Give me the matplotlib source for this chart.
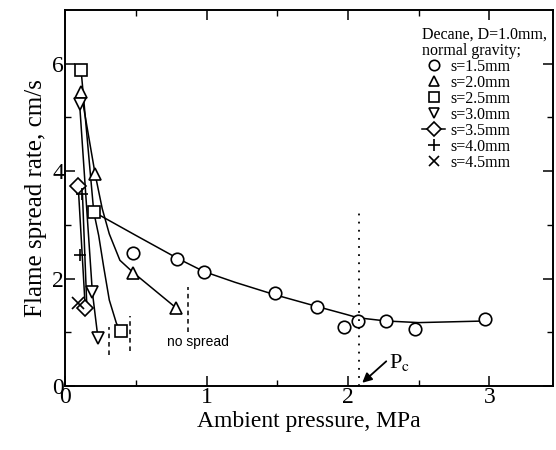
import numpy as np
import matplotlib
matplotlib.use("Agg")
import matplotlib.pyplot as plt
from matplotlib.lines import Line2D

plt.rcParams["font.family"] = ["Liberation Serif", "DejaVu Serif"]
plt.rcParams["mathtext.fontset"] = "stix"

# measured points, pressure in MPa, spread rate in cm/s
s15_p = [0.48, 0.79, 0.98, 1.48, 1.78, 1.97, 2.07, 2.27, 2.47, 2.97]
s15_v = [2.47, 2.36, 2.12, 1.73, 1.47, 1.10, 1.21, 1.21, 1.06, 1.24]
s20_p = [0.11, 0.21, 0.48, 0.78]
s20_v = [5.47, 3.94, 2.11, 1.46]
s25_p = [0.11, 0.20, 0.39]
s25_v = [5.89, 3.24, 1.02]
s30_p = [0.10, 0.19, 0.23]
s30_v = [5.25, 1.75, 0.89]
s35_p = [0.09, 0.14]
s35_v = [3.72, 1.45]
s40_p = [0.12, 0.10]
s40_v = [3.57, 2.43]
s45_p = [0.09]
s45_v = [1.54]

# hand-drawn trend curves
fit15_p = [0.20, 0.50, 0.79, 0.98, 1.20, 1.48, 1.78, 1.99, 2.07, 2.27, 2.50, 2.97]
fit15_v = [3.24, 2.80, 2.38, 2.13, 1.93, 1.70, 1.48, 1.33, 1.27, 1.21, 1.18, 1.21]
fit20_p = [0.11, 0.21, 0.26, 0.31, 0.385, 0.48, 0.78]
fit20_v = [5.47, 3.94, 3.30, 2.83, 2.34, 2.11, 1.46]
fit25_p = [0.11, 0.20, 0.235, 0.27, 0.31, 0.36, 0.39]
fit25_v = [5.89, 3.24, 2.80, 2.22, 1.60, 1.17, 1.02]
fit40_p = [0.12, 0.15]
fit40_v = [3.57, 1.55]

# "no spread" limits
nospread_p = [0.31, 0.46, 0.87]
nospread_lo = [0.58, 0.65, 1.00]
nospread_hi = [1.10, 1.30, 1.85]
p_crit = 2.08

fig = plt.figure(figsize=(5.56, 4.5), dpi=100)
ax = fig.add_axes([0.1178, 0.1422, 0.8768, 0.8358])

ms = 9
kw = dict(color="black", lw=1.1)
mk = dict(ls="none", mfc="white", mec="black", mew=1.2, ms=ms)

ax.plot(fit15_p, fit15_v, **kw)
ax.plot(fit20_p, fit20_v, **kw)
ax.plot(fit25_p, fit25_v, **kw)
ax.plot(s30_p, s30_v, **kw)
ax.plot(s35_p, s35_v, **kw)
ax.plot(fit40_p, fit40_v, **kw)

ax.plot(s15_p, s15_v, marker="o", **mk)
ax.plot(s20_p, s20_v, marker="^", **mk)
ax.plot(s25_p, s25_v, marker="s", **mk)
ax.plot(s30_p, s30_v, marker="v", **mk)
ax.plot(s35_p, s35_v, marker="D", **dict(mk, ms=8))
ax.plot(s40_p, s40_v, marker="+", **mk)
ax.plot(s45_p, s45_v, marker="x", **mk)

for p, lo, hi in zip(nospread_p, nospread_lo, nospread_hi):
    ax.plot([p, p], [lo, hi], color="black", lw=1.1, ls=(0, (3, 2.5)))
ax.text(0.94, 0.82, "no spread", fontsize=10, ha="center", va="center",
        family=["Liberation Sans", "DejaVu Sans"])

ax.plot([p_crit, p_crit], [0, 3.27], color="black", lw=1.3, ls=(0, (1, 3.5)))
ax.annotate("", xy=(2.10, 0.06), xytext=(2.27, 0.46),
            arrowprops=dict(arrowstyle="-|>", color="black", lw=1.3,
                            mutation_scale=14, shrinkA=0, shrinkB=0))
ax.text(2.29, 0.33, r"P$_\mathrm{c}$", fontsize=16, ha="left", va="baseline")

ax.set_xlim(0, 3.45)
ax.set_ylim(0, 7)
ax.set_xticks([0, 1, 2, 3])
ax.set_xticks([0.5, 1.5, 2.5], minor=True)
ax.set_yticks([0, 2, 4, 6])
ax.set_yticks([1, 3, 5], minor=True)
ax.tick_params(which="both", direction="in", top=True, right=True, labelsize=17, pad=1)
ax.tick_params(which="major", length=7, width=1.1)
ax.tick_params(which="minor", length=4, width=1.0)
for sp in ax.spines.values():
    sp.set_linewidth(1.4)

ax.set_xlabel("Ambient pressure, MPa", fontsize=17, labelpad=2)
ax.set_ylabel("Flame spread rate, cm/s", fontsize=18, labelpad=4)

handles = [
    Line2D([], [], marker="o", **dict(mk, ms=7.5)),
    Line2D([], [], marker="^", **dict(mk, ms=7.5)),
    Line2D([], [], marker="s", **dict(mk, ms=7.5)),
    Line2D([], [], marker="v", **dict(mk, ms=7.5)),
    Line2D([], [], marker="D", color="black", lw=1.1, mfc="white", mec="black", mew=1.2, ms=7),
    Line2D([], [], marker="+", **dict(mk, ms=9)),
    Line2D([], [], marker="x", **dict(mk, ms=7.5)),
]
labels = ["s=1.5mm", "s=2.0mm", "s=2.5mm", "s=3.0mm", "s=3.5mm", "s=4.0mm", "s=4.5mm"]
leg = ax.legend(handles, labels, title="Decane, D=1.0mm,\nnormal gravity;",
                loc="upper left", bbox_to_anchor=(422 / 556, 1 - 27 / 450),
                bbox_transform=fig.transFigure, frameon=False, fontsize=11.5,
                title_fontsize=11.5, alignment="left", handlelength=1.45,
                handletextpad=0.35, labelspacing=0.0, borderpad=0, borderaxespad=0)
leg.get_title().set_linespacing(1.0)

fig.savefig("out.png", dpi=100)
